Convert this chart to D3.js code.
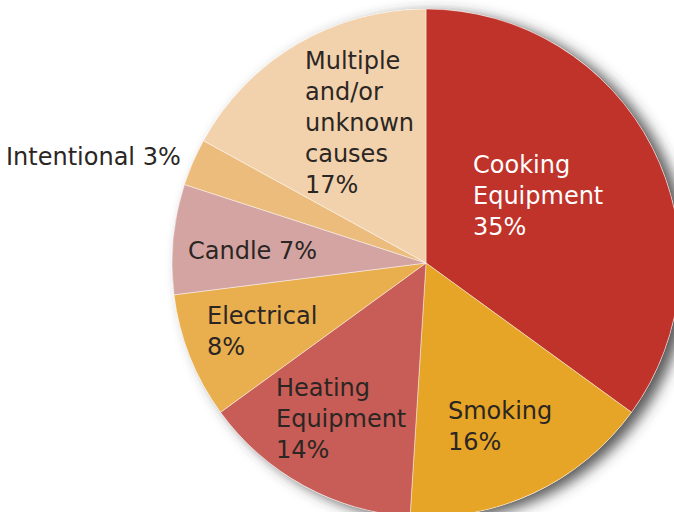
<!DOCTYPE html>
<html>
<head>
<meta charset="utf-8">
<script src="https://cdn.jsdelivr.net/npm/d3@7"></script>
<style>
  body { margin: 0; background: #fff; }
  svg { display: block; }
</style>
</head>
<body>
<div id="chart"></div>
<script>
const causes = ["Cooking Equipment", "Smoking", "Heating Equipment", "Electrical", "Candle", "Intentional", "Multiple and/or unknown causes"];
const shares = [35, 16, 14, 8, 7, 3, 17];
const sliceColors = ["#c0332a", "#e6a526", "#c75d56", "#e9ae4e", "#d4a4a2", "#ebbc7c", "#f2d2ad"];
const labelLines = [
  ["Cooking", "Equipment", "35%"],
  ["Smoking", "16%"],
  ["Heating", "Equipment", "14%"],
  ["Electrical", "8%"],
  ["Candle 7%"],
  ["Intentional 3%"],
  ["Multiple", "and/or", "unknown", "causes", "17%"]
];

const width = 674, height = 512;
const cx = 426, cy = 263, radius = 254;

// where each label block starts (left x, first line centre y)
const labelAt = [
  [473, 165], [448, 411], [276, 388], [207, 316], [188, 251], [6, 157], [305, 61]
];
const lineH = 31;

const svg = d3.select("#chart").append("svg")
    .attr("width", width)
    .attr("height", height);

const defs = svg.append("defs");
const f = defs.append("filter").attr("id", "shadow")
    .attr("x", "-20%").attr("y", "-20%").attr("width", "140%").attr("height", "140%");
f.append("feDropShadow")
    .attr("dx", 9).attr("dy", 4)
    .attr("stdDeviation", 7)
    .attr("flood-color", "#3a3a3a")
    .attr("flood-opacity", 0.85);

const color = d3.scaleOrdinal().domain(causes).range(sliceColors);

const pie = d3.pie().sort(null).value(d => d.v);
const arc = d3.arc().innerRadius(0).outerRadius(radius);

const data = causes.map((c, i) => ({c: c, v: shares[i], i: i}));

const g = svg.append("g").attr("transform", `translate(${cx},${cy})`);

// shadow disc under the pie
g.append("circle")
    .attr("r", radius)
    .attr("fill", "#fff")
    .attr("filter", "url(#shadow)");

g.selectAll("path")
    .data(pie(data))
    .enter()
    .append("path")
    .attr("d", arc)
    .attr("fill", d => color(d.data.c))
    .attr("stroke", "rgba(255,255,255,0.55)")
    .attr("stroke-width", 0.8);

// labels
const labels = svg.append("g")
    .style("font-family", "'DejaVu Sans', sans-serif")
    .style("font-size", "24px");

data.forEach((d, i) => {
  const t = labels.append("text")
      .attr("x", labelAt[i][0])
      .attr("y", labelAt[i][1])
      .attr("dominant-baseline", "central")
      .attr("fill", i === 0 ? "#fff" : "#2b2623");
  labelLines[i].forEach((line, k) => {
    t.append("tspan")
        .attr("x", labelAt[i][0])
        .attr("y", labelAt[i][1] + k * lineH)
        .text(line);
  });
});
</script>
</body>
</html>
